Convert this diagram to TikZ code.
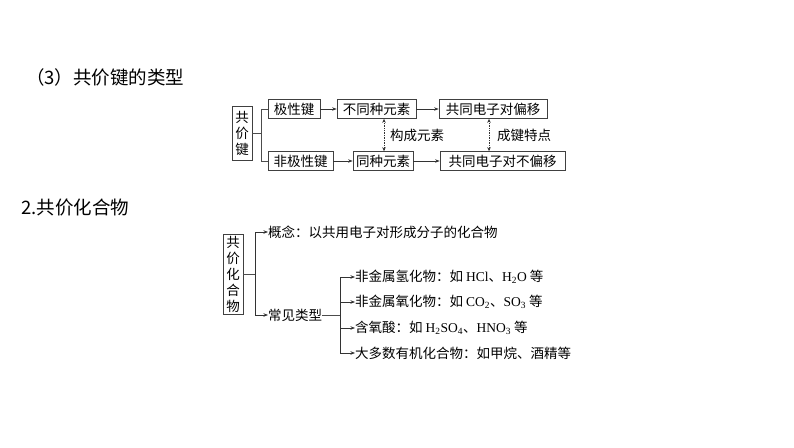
\documentclass[tikz,border=0pt]{standalone}
\usepackage{fontspec}
\setmainfont{Noto Sans CJK SC}
\newfontfamily\lat{Liberation Serif}
\usetikzlibrary{arrows.meta}
\begin{document}
\begin{tikzpicture}[x=1pt,y=-1pt,
  box/.style={draw=black!75,line width=0.7pt,inner xsep=2pt,inner ysep=0pt,minimum height=19pt,font=\fontsize{13.5}{15}\selectfont},
  vbox/.style={draw=black!75,line width=0.7pt,inner xsep=1pt,inner ysep=2pt,minimum width=20pt,align=center,font=\fontsize{13.5}{16}\selectfont},
  lbl/.style={inner sep=0pt,anchor=west,font=\fontsize{13.5}{15}\selectfont},
  conn/.style={draw=black!70,line width=0.7pt},
  arr/.style={draw=black!80,line width=0.7pt,-{Stealth[length=4.5pt,width=3.5pt]}},
  darr/.style={draw=black!80,line width=0.7pt,densely dotted,{Stealth[length=4pt,width=3.5pt]}-{Stealth[length=4pt,width=3.5pt]}}]
\useasboundingbox (0,0) rectangle (794,447);
% titles
\node[inner sep=0pt,anchor=west,font=\fontsize{18.5}{21}\selectfont] (t1) at (26,77) {（3）共价键的类型};
\node[inner sep=0pt,anchor=west,font=\fontsize{18.5}{21}\selectfont] (t2) at (21,208) {2.共价化合物};
% part 1
\node[vbox,minimum height=54pt] (gjj) at (242,133) {共\\价\\键};
\node[box,minimum width=52pt] (jxj) at (294,109) {极性键};
\node[box,minimum width=79pt] (btz) at (376.5,109) {不同种元素};
\node[box,minimum width=108pt] (gdp) at (493,109) {共同电子对偏移};
\node[box,minimum width=65pt] (fjx) at (300.5,161) {非极性键};
\node[box,minimum width=60pt] (tzy) at (383,161) {同种元素};
\node[box,minimum width=125pt] (gdb) at (502.5,161) {共同电子对不偏移};
\coordinate (s1) at (261,133);
\draw[conn] (gjj.east) -- (s1);
\draw[conn] (s1) |- (jxj.west);
\draw[conn] (s1) |- (fjx.west);
\draw[arr] (jxj) -- (btz);
\draw[arr] (btz) -- (gdp);
\draw[arr] (fjx) -- (tzy);
\draw[arr] (tzy) -- (gdb);
\draw[darr] (btz.south -| 384,0) -- (tzy.north -| 384,0);
\node[lbl] (gcys) at (390,135) {构成元素};
\draw[darr] (gdp.south -| 489,0) -- (gdb.north -| 489,0);
\node[lbl] (cjtd) at (497,135) {成键特点};
% part 2
\node[vbox,minimum height=79pt] (gjhhw) at (233,274.5) {共\\价\\化\\合\\物};
\coordinate (s2) at (255,274.5);
\node[lbl] (gn) at (268,232) {概念：以共用电子对形成分子的化合物};
\node[lbl] (cjlx) at (268,315) {常见类型};
\draw[conn] (gjhhw.east) -- (s2);
\draw[arr] (s2) |- (gn.west);
\draw[arr] (s2) |- (cjlx.west);
\coordinate (s3) at (340,315);
\draw[conn] (cjlx.east) -- (s3);
\node[lbl] (i1) at (355,277) {非金属氢化物：如 {\lat HCl}、{\lat H\textsubscript{2}O} 等};
\node[lbl] (i2) at (355,302) {非金属氧化物：如 {\lat CO\textsubscript{2}}、{\lat SO\textsubscript{3}} 等};
\node[lbl] (i3) at (355,328) {含氧酸：如 {\lat H\textsubscript{2}SO\textsubscript{4}}、{\lat HNO\textsubscript{3}} 等};
\node[lbl] (i4) at (355,353) {大多数有机化合物：如甲烷、酒精等};
\draw[arr] (s3) |- (i1.west);
\draw[arr] (s3) |- (i2.west);
\draw[arr] (s3) |- (i3.west);
\draw[arr] (s3) |- (i4.west);
\end{tikzpicture}
\end{document}
